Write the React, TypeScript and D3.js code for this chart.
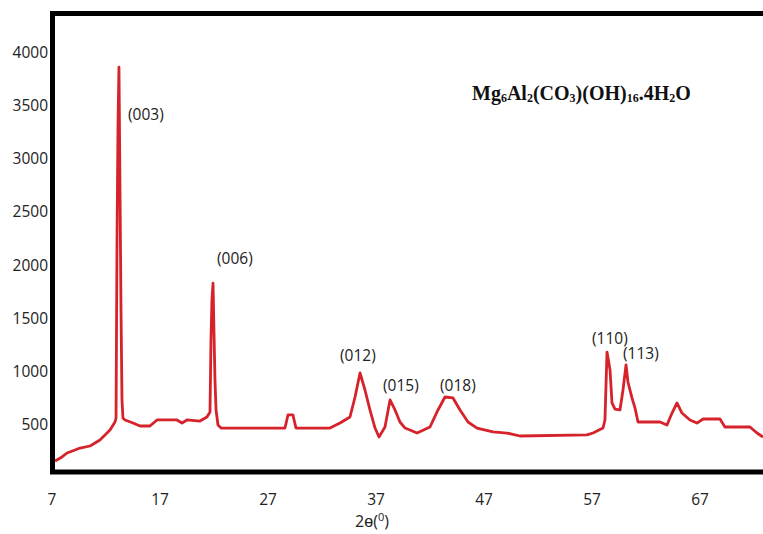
import React, { useEffect, useRef } from "react";
import * as d3 from "d3";

// XRD pattern
const twoTheta = [
  7.28, 7.93, 8.39, 9.13, 9.59, 10.52, 11.44, 12.0, 12.37, 12.83,
  12.93, 13.02, 13.11, 13.2, 13.3, 13.39, 13.48, 13.57, 13.76, 14.5,
  15.15, 16.07, 16.72, 18.57, 19.04, 19.5, 20.7, 21.35, 21.63, 21.72,
  21.81, 21.91, 22.0, 22.09, 22.19, 22.37, 22.65, 28.57, 28.85, 29.31,
  29.59, 32.74, 33.67, 34.59, 35.06, 35.52, 35.98, 36.44, 36.91, 37.28,
  37.83, 38.3, 38.76, 39.22, 39.69, 40.8, 42.0, 42.74, 43.39, 44.13,
  44.78, 45.52, 46.35, 47.83, 49.13, 50.33, 56.54, 57.09, 58.02, 58.2,
  58.39, 58.67, 58.85, 59.13, 59.59, 59.87, 60.15, 60.33, 60.7, 60.98,
  61.26, 63.3, 63.94, 64.41, 64.87, 65.33, 66.07, 66.72, 67.28, 68.85,
  69.31, 71.63, 72.28, 72.83,
];
const intensity = [
  152, 190, 227, 255, 274, 293, 350, 406, 444, 519,
  556, 2231, 3294, 3858, 2654, 1572, 726, 556, 538, 509,
  481, 481, 538, 538, 509, 538, 528, 566, 613, 1290,
  1667, 1826, 1356, 914, 632, 491, 462, 462, 585, 585,
  462, 462, 509, 566, 754, 980, 820, 632, 462, 378,
  472, 726, 632, 519, 462, 415, 472, 632, 754, 745,
  632, 519, 462, 425, 415, 387, 397, 415, 462, 538,
  1177, 1008, 698, 641, 632, 820, 1055, 895, 745, 651,
  519, 519, 491, 603, 698, 603, 538, 509, 547, 547,
  472, 472, 415, 378,
];

const yTicks = [500, 1000, 1500, 2000, 2500, 3000, 3500, 4000];
const xTicks = [7, 17, 27, 37, 47, 57, 67];

const peakLabels = ["(003)", "(006)", "(012)", "(015)", "(018)", "(110)", "(113)"];
const peakLabelTheta = [14.04, 22.28, 33.67, 37.65, 42.93, 57.0, 59.87];
const peakLabelIntensity = [3416, 2062, 1149, 867, 867, 1309, 1168];

const width = 763;
const height = 534;

const App = () => {
  const ref = useRef<SVGSVGElement>(null);

  useEffect(() => {
    const svg = d3.select(ref.current);
    svg.selectAll("*").remove();

    const x = d3.scaleLinear().domain([7, 67]).range([52, 700]);
    const y = d3.scaleLinear().domain([500, 4000]).range([424, 52]);

    const points: [number, number][] = twoTheta.map((t, i) => [t, intensity[i]]);
    const line = d3
      .line<[number, number]>()
      .x((d) => x(d[0]))
      .y((d) => y(d[1]));

    svg
      .append("path")
      .datum(points)
      .attr("d", line)
      .attr("fill", "none")
      .attr("stroke", "#d6222b")
      .attr("stroke-width", 2.8)
      .attr("stroke-linejoin", "round");

    // frame (right side runs off the picture)
    svg
      .append("rect")
      .attr("x", 52.5)
      .attr("y", 13.5)
      .attr("width", 800)
      .attr("height", 458.5)
      .attr("fill", "none")
      .attr("stroke", "#000")
      .attr("stroke-width", 5);

    const sans = "'Open Sans', 'Liberation Sans', sans-serif";

    svg
      .append("g")
      .selectAll("text")
      .data(yTicks)
      .join("text")
      .attr("x", 48)
      .attr("y", (d) => y(d))
      .attr("text-anchor", "end")
      .attr("dominant-baseline", "central")
      .attr("font-family", sans)
      .attr("font-size", 15.5)
      .attr("fill", "#222")
      .text((d) => d);

    svg
      .append("g")
      .selectAll("text")
      .data(xTicks)
      .join("text")
      .attr("x", (d) => x(d))
      .attr("y", 505)
      .attr("text-anchor", "middle")
      .attr("font-family", sans)
      .attr("font-size", 15.5)
      .attr("fill", "#222")
      .text((d) => d);

    const xl = svg
      .append("text")
      .attr("x", 372)
      .attr("y", 527)
      .attr("text-anchor", "middle")
      .attr("font-family", sans)
      .attr("font-size", 16)
      .attr("fill", "#222");
    xl.append("tspan").text("2ɵ(");
    xl.append("tspan").attr("font-size", 11).attr("dy", -6).text("0");
    xl.append("tspan").attr("dy", 6).text(")");

    svg
      .append("g")
      .selectAll("text")
      .data(peakLabels)
      .join("text")
      .attr("x", (d, i) => x(peakLabelTheta[i]))
      .attr("y", (d, i) => y(peakLabelIntensity[i]))
      .attr("dominant-baseline", "central")
      .attr("font-family", sans)
      .attr("font-size", 15.5)
      .attr("fill", "#222")
      .text((d) => d);

    // formula
    const title = svg
      .append("text")
      .attr("x", 472)
      .attr("y", 100)
      .attr("font-family", "'Liberation Serif', 'Times New Roman', serif")
      .attr("font-weight", "bold")
      .attr("font-size", 20)
      .attr("fill", "#111");
    const parts: [string, boolean][] = [
      ["Mg", false], ["6", true], ["Al", false], ["2", true], ["(CO", false], ["3", true],
      [")(OH)", false], ["16", true], [".4H", false], ["2", true], ["O", false],
    ];
    let sub = false;
    parts.forEach(([t, s]) => {
      const ts = title.append("tspan").text(t);
      if (s && !sub) ts.attr("dy", 2);
      if (s) ts.attr("font-size", 12);
      if (!s && sub) ts.attr("dy", -2);
      sub = s;
    });
  });

  return (
    <svg
      ref={ref}
      width={width}
      height={height}
      style={{ position: "absolute", left: 0, top: 0, background: "#fff" }}
    />
  );
};

export default App;
